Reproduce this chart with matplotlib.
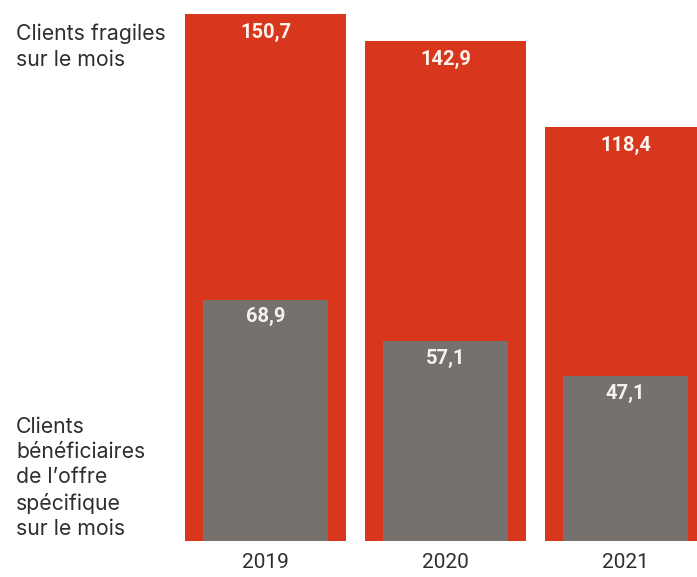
import matplotlib.pyplot as plt
import numpy as np

# Données (en milliers de clients)
annees = ["2019", "2020", "2021"]
fragiles = [150.7, 142.9, 118.4]
beneficiaires = [68.9, 57.1, 47.1]

rouge = "#d8361d"
gris = "#76716d"
texte = "#2e2e2e"

plt.rcParams['font.family'] = ['Roboto', 'DejaVu Sans']

fig = plt.figure(figsize=(6.97, 5.77), dpi=100)
# axe sur toute la largeur, bas des barres à ~541 px
ax = fig.add_axes([0, 36.4 / 577, 1, 1 - 36.4 / 577])

x = np.arange(len(annees))
ax.bar(x, fragiles, width=0.894, color=rouge, linewidth=0)
ax.bar(x, beneficiaires, width=0.694, color=gris, linewidth=0)

px = 540.6 / 3.494  # hauteur de l'axe en unités
ax.set_xlim(-265.5 / 180, (697 - 265.5) / 180)
ax.set_ylim(0, px)
ax.axis("off")

def fmt(v):
    return f"{v:.1f}".replace(".", ",")

for xi, v in zip(x, fragiles):
    ax.text(xi, v - 18.5 / 3.494, fmt(v), ha="center", va="center",
            color="#fdf3ea", fontsize=14.5, fontweight="bold")
for xi, v in zip(x, beneficiaires):
    ax.text(xi, v - 17 / 3.494, fmt(v), ha="center", va="center",
            color="#f4f1ee", fontsize=14.5, fontweight="bold")

for xi, a in zip(x, annees):
    fig.text((265.5 + 180 * xi) / 697, 1 - 563 / 577, a, ha="center", va="center",
             color=texte, fontsize=15)

fig.text(16 / 697, 1 - 24 / 577, "Clients fragiles\nsur le mois", ha="left", va="top",
         color=texte, fontsize=15.3, linespacing=1.32, family=['Inter', 'DejaVu Sans'])
fig.text(16 / 697, 1 - 417 / 577,
         "Clients\nbénéficiaires\nde l\u2019offre\nspécifique\nsur le mois",
         ha="left", va="top", color=texte, fontsize=15.3, linespacing=1.32,
         family=['Inter', 'DejaVu Sans'])

fig.savefig("out.png", dpi=100)
